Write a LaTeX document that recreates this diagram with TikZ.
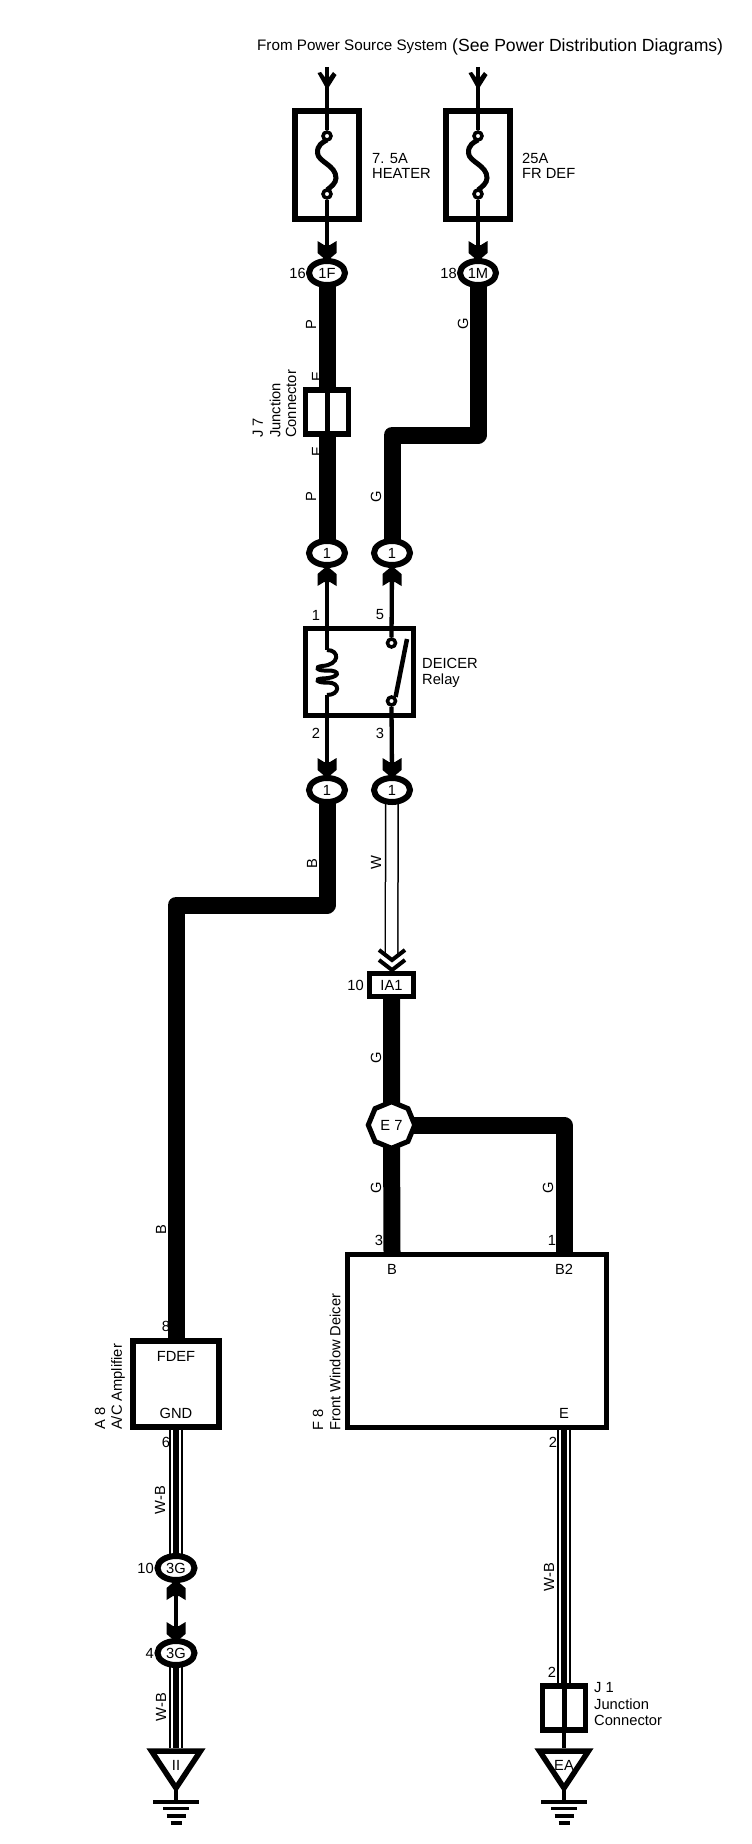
\documentclass[tikz,border=0pt]{standalone}
\usepackage{fontspec}
\setmainfont{Liberation Sans}
\usetikzlibrary{shapes.geometric,backgrounds}
\tikzset{
  txt/.style={font=\fontsize{14.7}{15}\selectfont, inner sep=0pt, text=black},
  wirethin/.style={line width=4.3pt},
  wirethick/.style={line width=17pt, line join=round},
  wirewhite/.style={line width=14pt, black, postaction={draw, white, line width=11pt}},
  wireblack/.style={line width=14pt, black, postaction={draw, white, line width=10.4pt}, postaction={draw, black, line width=5.7pt}},
  oval/.style={ellipse, draw, line width=6pt, fill=white, minimum width=36pt, minimum height=24pt, txt},
  fusebox/.style={draw, line width=6pt, fill=white, minimum width=64pt, minimum height=108pt},
  boxcomp/.style={draw, line width=5.5pt, fill=white, inner sep=0pt},
  junc/.style={boxcomp, minimum width=43pt, minimum height=44pt},
  dot/.style={circle, draw, line width=3.5pt, fill=white, minimum size=8pt, inner sep=0pt},
  fork/.pic={\fill (-9.5,-19) -- (-3,-15) -- (3,-15) -- (9.5,-19) -- (9.5,-7) -- (0,1) -- (-9.5,-7) -- cycle;},
  barb/.pic={\fill (-9.5,-17) -- (-6,-18) -- (0,-10) -- (6,-18) -- (9.5,-15) -- (0,0) -- cycle;},
  gnd/.pic={
    \draw[line width=5.5pt] (-24.5,3) -- (24.5,3) -- (0,40) -- cycle;
    \draw[line width=3.5pt] (0,40) -- (0,54) (-23,54) -- (23,54) (-13,60.5) -- (13,60.5) (-9.5,68) -- (9.5,68) (-5.5,75) -- (5.5,75);
  },
  fusewire/.pic={\draw[line width=5pt] (0,-25) .. controls (-4,-23) and (-10,-20) .. (-9.5,-12) .. controls (-9,-3) and (9,0) .. (9,13) .. controls (9,18) and (4,22) .. (0,25);}
}
\begin{document}
\begin{tikzpicture}[x=1pt, y=-1pt, line cap=butt]
\useasboundingbox (0,0) rectangle (752,1844);
% components
\node[fusebox] (fuseA) at (327,165) {};
\node[fusebox] (fuseB) at (478,165) {};
\node[oval] (c1F) at (327,273) {1F};
\node[oval] (c1M) at (478,273) {1M};
\node[junc] (j7) at (327,412) {};
\node[oval] (c1a) at (327,553) {1};
\node[oval] (c1b) at (392,553) {1};
\node[boxcomp, minimum width=108pt, minimum height=87pt] (relay) at (359.5,672) {};
\node[oval] (c1c) at (327,790) {1};
\node[oval] (c1d) at (392,790) {1};
\node[boxcomp, txt, minimum width=44pt, minimum height=23pt] (ia1) at (391.5,985) {IA1};
\node[regular polygon, regular polygon sides=8, shape border rotate=22.5, draw, line width=5pt, fill=white, minimum size=46.5pt, txt] (e7) at (391.5,1125) {E 7};
\node[boxcomp, minimum width=259pt, minimum height=173pt] (deicer) at (477,1341) {};
\node[boxcomp, minimum width=86pt, minimum height=86pt] (amp) at (176,1384) {};
\node[oval, minimum width=37pt] (c3Ga) at (176,1568) {3G};
\node[oval, minimum width=37pt] (c3Gb) at (176,1653) {3G};
\node[junc] (j1) at (564,1708) {};
\node[txt] (fdef) at (176,1356) {FDEF};
\node[txt] (gnd) at (176,1413) {GND};
\node[txt] (pinB) at (392,1269) {B};
\node[txt] (pinBtwo) at (564,1269) {B2};
\node[txt] (pinE) at (564,1413) {E};
\coordinate (srcA) at (327,67);
\coordinate (srcB) at (478,67);
\coordinate (jogG) at (392,435);
\coordinate (jogB) at (176,905);
\coordinate (inB) at (392,1252);
\coordinate (inBtwo) at (564,1252);
\coordinate (gndA) at (176,1748);
\coordinate (gndB) at (564,1748);
\coordinate (coilT) at (327,650);
\coordinate (coilB) at (327,695);
\node[dot] (dotAt) at (327,136) {};
\node[dot] (dotAb) at (327,194) {};
\node[dot] (dotBt) at (478,136) {};
\node[dot] (dotBb) at (478,194) {};
\node[dot] (dot5) at (391.5,643) {};
\node[dot] (dot3) at (391.5,701) {};
% labels and heavy wires go under the components
\begin{pgfonlayer}{background}
\node[txt, anchor=west, font=\fontsize{15.2}{16}\selectfont] (source) at (257,47) {From Power Source System};
\node[txt, anchor=west, font=\fontsize{17.6}{18}\selectfont] (sourceb) at (452,47) {(See Power Distribution Diagrams)};
\node[txt, anchor=west, align=left] (fuseAtxt) at (372,166) {7. 5A\\HEATER};
\node[txt, anchor=west, align=left] (fuseBtxt) at (522,166) {25A\\FR DEF};
\node[txt, anchor=east] (pin16) at (306,273) {16};
\node[txt, anchor=east] (pin18) at (457,273) {18};
\foreach \nm/\lab/\px/\py in {wP1/P/311/325, wE1/E/317/377, wE2/E/317/452, wP2/P/311/497, wG1/G/463/324, wG2/G/376/497, wB1/B/312/864, wW/W/376/863, wG3/G/376/1058, wG4/G/376/1188, wG5/G/548/1188, wB2/B/161/1230, wWB1/W-B/160/1500, wWB2/W-B/161/1707, wWB3/W-B/549/1577}
  \node[txt, rotate=90] (\nm) at (\px,\py) {\lab};
\node[txt, rotate=90, anchor=west] (j7a) at (258,438) {J 7};
\node[txt, rotate=90, anchor=west] (j7b) at (275,438) {Junction};
\node[txt, rotate=90, anchor=west] (j7c) at (291,438) {Connector};
\foreach \nm/\lab/\px/\py in {p1/1/316/615, p5/5/380/615, p2/2/316/733, p3/3/380/733, p8/8/166/1326, p6/6/166/1442, p3b/3/379/1240, p1b/1/552/1240, p2b/2/553/1442, p2c/2/552/1672}
  \node[txt] (\nm) at (\px,\py) {\lab};
\node[txt, anchor=west, align=left] (relaytxt) at (422,673) {DEICER\\[1.5pt]Relay};
\node[txt, anchor=east] (pin10a) at (364,985) {10};
\node[txt, rotate=90, anchor=west] (a8a) at (100,1430) {A 8};
\node[txt, rotate=90, anchor=west] (a8b) at (118,1430) {A/C Amplifier};
\node[txt, rotate=90, anchor=west] (f8a) at (318,1431) {F 8};
\node[txt, rotate=90, anchor=west] (f8b) at (335,1431) {Front Window Deicer};
\node[txt, anchor=east] (pin10b) at (154,1568) {10};
\node[txt, anchor=east] (pin4) at (154,1653) {4};
\node[txt, anchor=west, align=left] (j1txt) at (594,1704) {J 1\\[1.5pt]Junction\\[1.5pt]Connector};
\draw[wirethick] (c1F.center) -- (j7.center) -- (c1a.center);
\draw[wirethick] (c1M.center) |- (jogG) -- (c1b.center);
\draw[wirethick] (c1c.center) |- (jogB) -- (amp.north);
\draw[wirewhite, shorten >=14pt] (c1d.center) -- (ia1.north);
\draw[wirethick] (ia1.center) -- (e7.center) -- (inB);
\draw[wirethick] (e7.center) -| (inBtwo);
\draw[wireblack] (amp.center) -- (c3Ga.center);
\draw[wireblack] (c3Gb.center) -- (gndA);
\draw[wireblack] (deicer.south -| j1.north) -- (j1.north);
\end{pgfonlayer}
% light wires
\draw[wirethin] (srcA) -- (dotAt.north);
\draw[wirethin] (srcB) -- (dotBt.north);
\draw[wirethin] (dotAb.south) -- (c1F.north);
\draw[wirethin] (dotBb.south) -- (c1M.north);
\draw[wirethin, line width=5pt] (j7.north) -- (j7.south);
\draw[wirethin] (c1a.south) -- (coilT);
\draw[wirethin] (c1b.south) -- (dot5.north);
\draw[wirethin] (coilB) -- (c1c.north);
\draw[wirethin] (dot3.south) -- (c1d.north);
\draw[line width=4.5pt] (dot3.north east) -- (407,639);
\draw[line width=4pt] (coilT) .. controls (340,650) and (340,665) .. (322,666) .. controls (314,667) and (317,671) .. (327,670.5) .. controls (341,670) and (341,678) .. (322,678.5) .. controls (314,679) and (317,683) .. (327,682.5) .. controls (341,682) and (340,695) .. (coilB);
\draw[line width=4pt] (379,950) -- (392,960) -- (405,950) (379,960) -- (392,970) -- (405,960);
\draw[wirethin] (c3Ga.south) -- (c3Gb.north);
\draw[wirethin, line width=5pt] (j1.north) -- (j1.south);
\draw[wirethin] (j1.south) -- (gndB);
% tips and small symbols
\pic at (dotAt |- 90,90) {barb};
\pic at (dotBt |- 90,90) {barb};
\foreach \px/\py in {327/260, 478/260, 327/777, 392/777, 176/1641}
  \pic at (\px,\py) {fork};
\foreach \px/\py in {327/567, 392/567, 176/1581}
  \pic[rotate=180] at (\px,\py) {fork};
\pic at (327,165) {fusewire};
\pic at (478,165) {fusewire};
\pic at (gndA) {gnd};
\pic at (gndB) {gnd};
\node[txt] (gndAtxt) at (176,1765) {II};
\node[txt] (gndBtxt) at (564,1765) {EA};
\end{tikzpicture}
\end{document}
